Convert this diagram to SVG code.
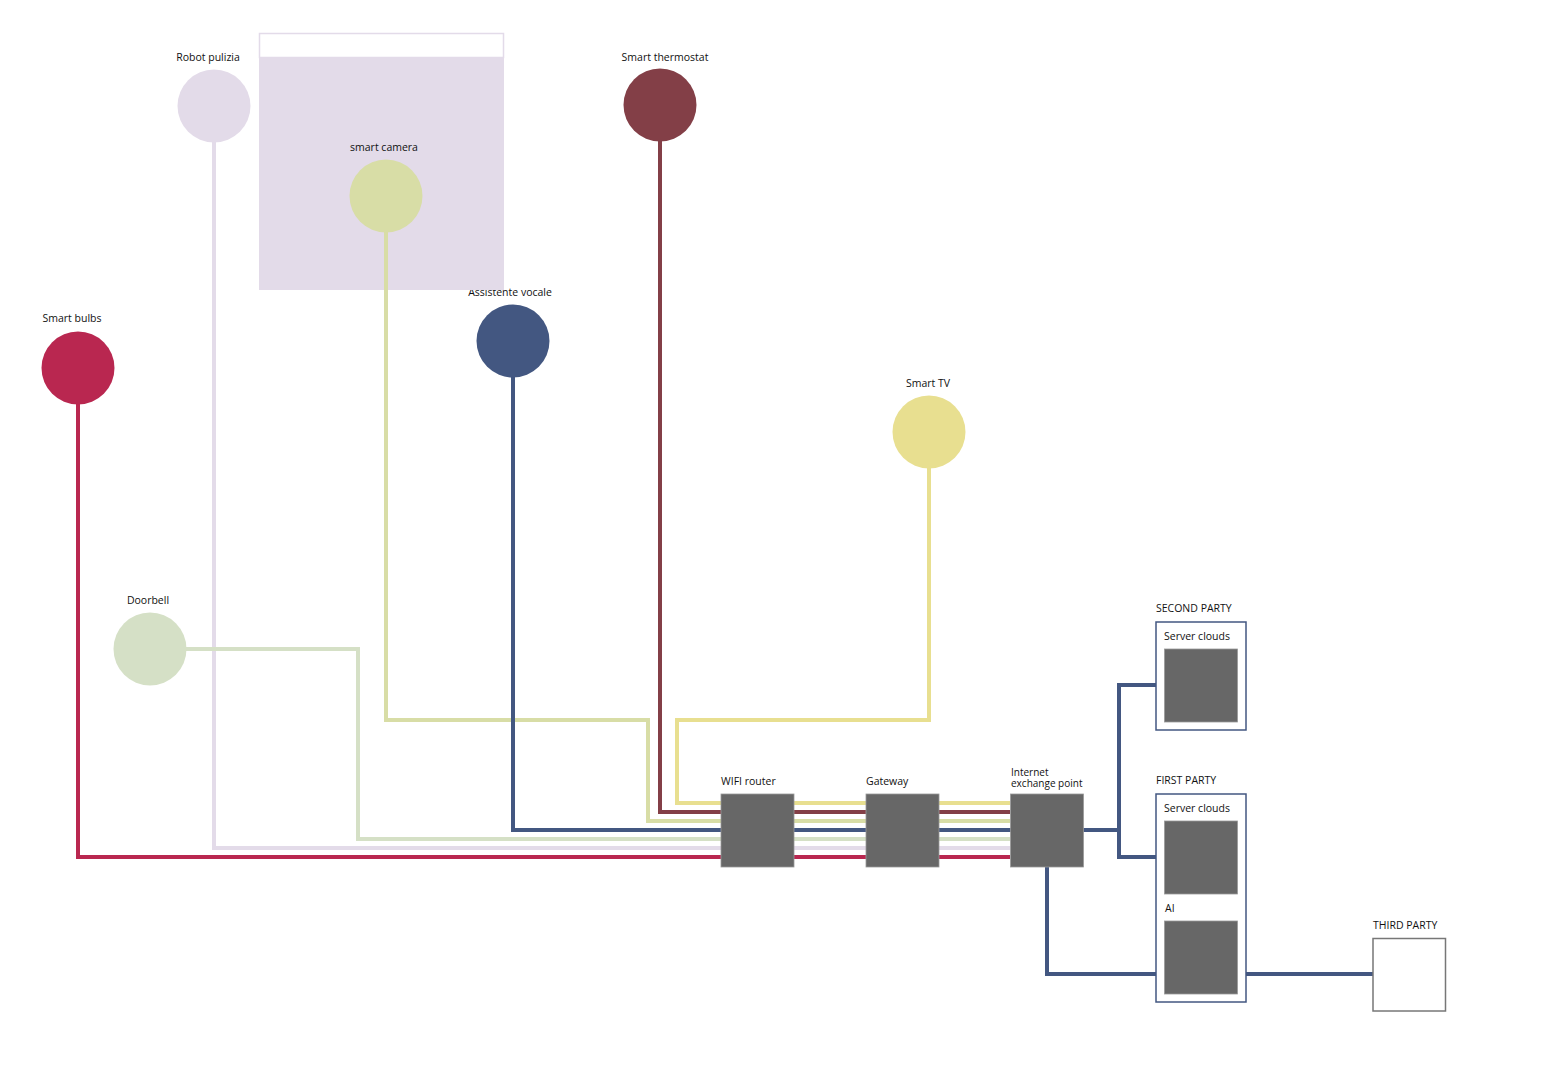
<svg xmlns="http://www.w3.org/2000/svg" width="1560" height="1080" viewBox="0 0 1560 1080">
<style>
text{font-family:"Open Sans","Liberation Sans",sans-serif;font-size:10.5px;fill:#111}
.c{text-anchor:middle}
.s{font-size:10px}
.w{fill:none;stroke-width:4}
.box{fill:#676767;stroke:#9a9a9a;stroke-width:0.8}
.party{fill:#fff;stroke:#435781;stroke-width:1.5}
</style>
<rect width="1560" height="1080" fill="#fff"/>
<g id="label-assistente"><text class="c" x="510" y="296">Assistente vocale</text></g>
<g id="camera-area">
<rect x="259.5" y="33.5" width="244" height="24" fill="#fff" stroke="#e3dbe9" stroke-width="1.5"/>
<rect x="259" y="57" width="245" height="233" fill="#e3dbe9"/>
</g>
<g id="connectors">
<path class="w" stroke="#b92750" d="M78 404V857H1010"/>
<path class="w" stroke="#e3dbe9" d="M214 142V848H1010"/>
<path class="w" stroke="#d5e0c6" d="M186 649H358V839H1010"/>
<path class="w" stroke="#d8dda6" d="M386 232V720H648V821H1010"/>
<path class="w" stroke="#435781" d="M513 377V830H1119"/>
<path class="w" stroke="#833f47" d="M660 141V812H1010"/>
<path class="w" stroke="#e8df90" d="M929 468V720H677V803H1010"/>
<path class="w" stroke="#435781" d="M1156 685H1119V857H1156"/>
<path class="w" stroke="#435781" d="M1047 866V974H1156"/>
<path class="w" stroke="#435781" d="M1246 974H1373"/>
</g>
<g id="robot-pulizia"><circle cx="214" cy="106" r="36.5" fill="#e3dbe9"/><text class="c" x="208" y="61">Robot pulizia</text></g>
<g id="smart-camera"><circle cx="386" cy="196" r="36.5" fill="#d8dda6"/><text class="c" x="384" y="151">smart camera</text></g>
<g id="smart-thermostat"><circle cx="660" cy="105" r="36.5" fill="#833f47"/><text class="c" x="665" y="61">Smart thermostat</text></g>
<g id="assistente-vocale"><circle cx="513" cy="341" r="36.5" fill="#435781"/></g>
<g id="smart-bulbs"><circle cx="78" cy="368" r="36.5" fill="#b92750"/><text class="c" x="72" y="322">Smart bulbs</text></g>
<g id="smart-tv"><circle cx="929" cy="432" r="36.5" fill="#e8df90"/><text class="c" x="928" y="387">Smart TV</text></g>
<g id="doorbell"><circle cx="150" cy="649" r="36.5" fill="#d5e0c6"/><text class="c" x="148" y="604">Doorbell</text></g>
<g id="wifi-router"><rect class="box" x="721" y="794" width="73" height="73"/><text x="721" y="785">WIFI router</text></g>
<g id="gateway"><rect class="box" x="866" y="794" width="73" height="73"/><text x="866" y="785">Gateway</text></g>
<g id="ixp"><rect class="box" x="1010.5" y="794" width="73" height="73"/><text class="s" x="1011" y="775.5">Internet</text><text class="s" x="1011" y="786.5">exchange point</text></g>
<g id="second-party">
<text x="1156" y="612">SECOND PARTY</text>
<rect class="party" x="1156" y="622" width="90" height="108"/>
<text x="1164" y="640">Server clouds</text>
<rect class="box" x="1164.5" y="649" width="73" height="73"/>
</g>
<g id="first-party">
<text x="1156" y="784">FIRST PARTY</text>
<rect class="party" x="1156" y="794" width="90" height="208"/>
<text x="1164" y="812">Server clouds</text>
<rect class="box" x="1164.5" y="821" width="73" height="73"/>
<text x="1165" y="912">AI</text>
<rect class="box" x="1164.5" y="921" width="73" height="73"/>
</g>
<g id="third-party">
<text x="1373" y="929">THIRD PARTY</text>
<rect x="1373" y="938.5" width="72.5" height="72.5" fill="#fff" stroke="#777" stroke-width="1.5"/>
</g>
</svg>
